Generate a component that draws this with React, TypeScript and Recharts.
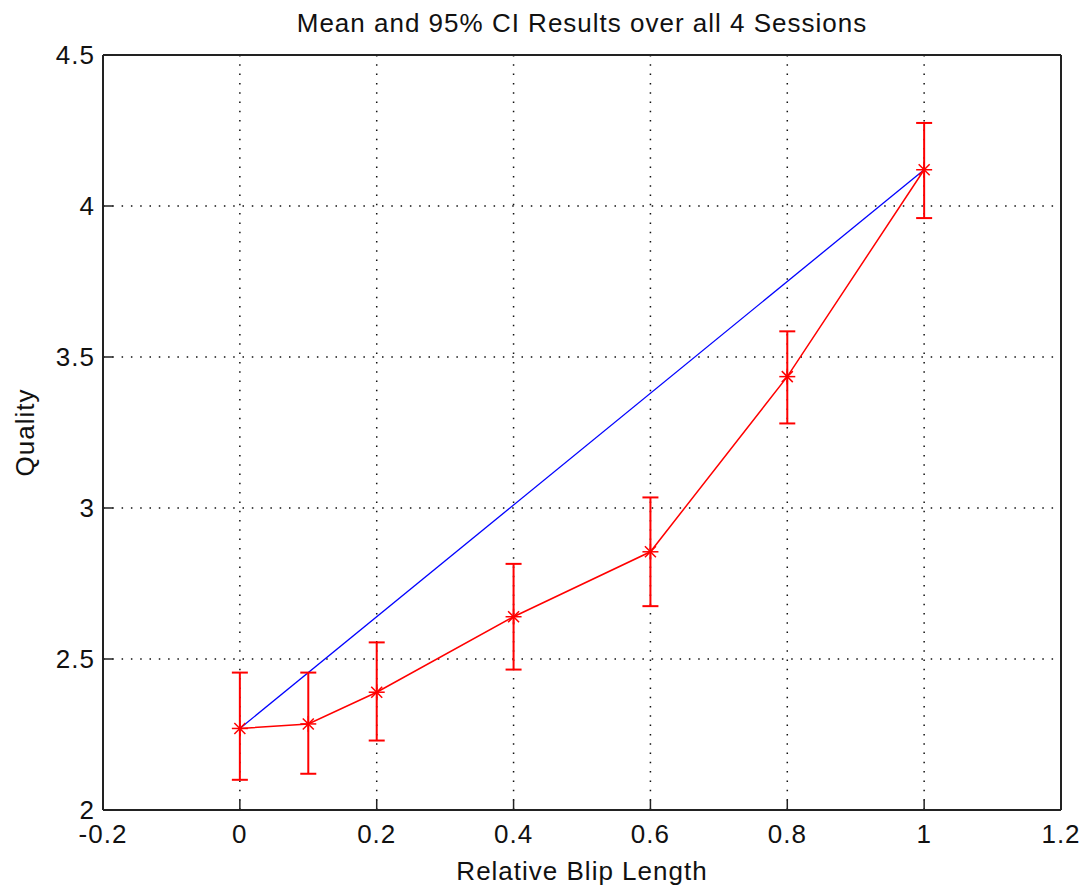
import React from "react";
import { ComposedChart, Line, XAxis, YAxis, CartesianGrid, ErrorBar, Label } from "recharts";

// Relative blip length
const blipLength = [0, 0.1, 0.2, 0.4, 0.6, 0.8, 1];
// Mean quality and 95% CI bounds
const meanQuality = [2.27, 2.285, 2.39, 2.64, 2.855, 3.435, 4.12];
const ciLower = [2.1, 2.12, 2.23, 2.465, 2.675, 3.28, 3.96];
const ciUpper = [2.455, 2.455, 2.555, 2.815, 3.035, 3.585, 4.275];
// Straight reference line between the two ends
const refX = [0, 1];
const refQuality = [2.27, 4.12];

const xTicks = [-0.2, 0, 0.2, 0.4, 0.6, 0.8, 1, 1.2];
const yTicks = [2, 2.5, 3, 3.5, 4, 4.5];

const rows = blipLength.map((x, i) => ({
  x,
  mean: meanQuality[i],
  ci: [meanQuality[i] - ciLower[i], ciUpper[i] - meanQuality[i]],
}));
const refRows = refX.map((x, i) => ({ x, q: refQuality[i] }));

const FONT = "'Liberation Sans', Arial, sans-serif";
const AX = "#222";
const TICK_LEN = 10;
const X_GAP = 15;
const Y_GAP = 8;
const txt = { fontSize: 26, fill: "#111", fontFamily: FONT, letterSpacing: 1 };

function Star(props: any) {
  const { cx, cy } = props;
  if (cx == null || cy == null) return null;
  const r = 8;
  const d = 5.5;
  return (
    <g stroke="#ff0000" strokeWidth={1.5}>
      <line x1={cx - r} y1={cy} x2={cx + r} y2={cy} />
      <line x1={cx} y1={cy - r} x2={cx} y2={cy + r} />
      <line x1={cx - d} y1={cy - d} x2={cx + d} y2={cy + d} />
      <line x1={cx - d} y1={cy + d} x2={cx + d} y2={cy - d} />
    </g>
  );
}

// tick label plus a tick mark pointing into the plot
function XTick(props: any) {
  const { x, y, payload } = props;
  const ay = y - X_GAP;
  return (
    <g>
      <line x1={x} y1={ay} x2={x} y2={ay - TICK_LEN} stroke={AX} strokeWidth={1.5} />
      <text x={x} y={y} dy="0.71em" textAnchor="middle" {...txt}>{String(payload.value)}</text>
    </g>
  );
}

function YTick(props: any) {
  const { x, y, payload } = props;
  const ax = x + Y_GAP;
  return (
    <g>
      <line x1={ax} y1={y} x2={ax + TICK_LEN} y2={y} stroke={AX} strokeWidth={1.5} />
      <text x={x} y={y} dy="0.355em" textAnchor="end" {...txt}>{String(payload.value)}</text>
    </g>
  );
}

export default function App() {
  return (
    <div style={{ position: "absolute", left: 0, top: 0, width: 1082, height: 888, background: "#fff" }}>
      <div style={{
        position: "absolute", left: 103, width: 958, top: 6, textAlign: "center",
        fontFamily: FONT, fontSize: 26, letterSpacing: 1, color: "#111", lineHeight: "34px",
      }}>
        Mean and 95% CI Results over all 4 Sessions
      </div>
      <ComposedChart width={1082} height={888} data={rows}
        margin={{ top: 55, right: 21, bottom: 0, left: 0 }}>
        <XAxis xAxisId="main" type="number" dataKey="x" domain={[-0.2, 1.2]} ticks={xTicks}
          height={78} tickLine={false} tickSize={0} tickMargin={X_GAP}
          axisLine={{ stroke: AX, strokeWidth: 2 }} tick={<XTick />} interval={0}>
          <Label value="Relative Blip Length" position="insideBottom" offset={8}
            style={{ fontSize: 26, fill: "#111", fontFamily: FONT, letterSpacing: 1 }} />
        </XAxis>
        <YAxis yAxisId="main" type="number" domain={[2, 4.5]} ticks={yTicks}
          width={103} tickLine={false} tickSize={0} tickMargin={Y_GAP}
          axisLine={{ stroke: AX, strokeWidth: 2 }} tick={<YTick />} interval={0}>
          <Label content={(p: any) => {
            const vb = p.viewBox || {};
            const cx = 25;
            const cy = (vb.y ?? 0) + (vb.height ?? 0) / 2;
            return (
              <text x={cx} y={cy} transform={`rotate(-90 ${cx} ${cy})`} textAnchor="middle"
                dominantBaseline="central" {...txt}>
                Quality
              </text>
            );
          }} />
        </YAxis>
        {/* top and right edges of the box, ticks pointing inward */}
        <XAxis xAxisId="top" type="number" dataKey="x" orientation="top" mirror
          domain={[-0.2, 1.2]} ticks={xTicks} tick={false} tickSize={TICK_LEN}
          axisLine={{ stroke: AX, strokeWidth: 2 }} tickLine={{ stroke: AX, strokeWidth: 1.5 }} />
        <YAxis yAxisId="rt" type="number" orientation="right" mirror
          domain={[2, 4.5]} ticks={yTicks} tick={false} tickSize={TICK_LEN}
          axisLine={{ stroke: AX, strokeWidth: 2 }} tickLine={{ stroke: AX, strokeWidth: 1.5 }} />

        <CartesianGrid xAxisId="main" yAxisId="main" stroke="#111" strokeWidth={1.5}
          strokeDasharray="1.5 7.8" />

        <Line xAxisId="main" yAxisId="main" data={refRows} dataKey="q" type="linear"
          stroke="#0000ff" strokeWidth={1.3} dot={false} activeDot={false}
          isAnimationActive={false} />
        <Line xAxisId="main" yAxisId="main" dataKey="mean" type="linear"
          stroke="#ff0000" strokeWidth={1.5} dot={<Star />} activeDot={false}
          isAnimationActive={false}>
          <ErrorBar dataKey="ci" direction="y" width={8} stroke="#ff0000" strokeWidth={2} />
        </Line>
      </ComposedChart>
    </div>
  );
}
